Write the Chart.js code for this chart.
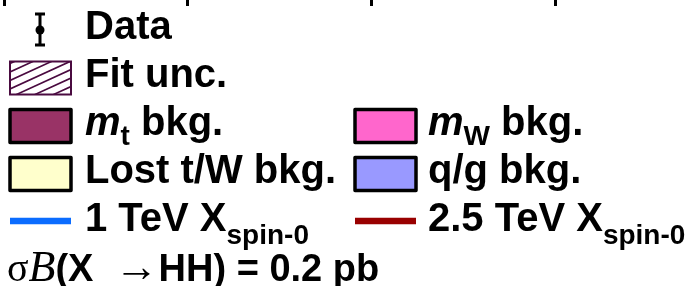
<!DOCTYPE html>
<html>
<head>
<meta charset="utf-8">
<script src="https://cdn.jsdelivr.net/npm/chart.js@4.4.0/dist/chart.umd.min.js"></script>
<style>
  html, body { margin: 0; padding: 0; background: #fff; }
  canvas { display: block; }
</style>
</head>
<body>
<canvas id="chart" width="692" height="286"></canvas>
<script>
// legend entries, ROOT-like markup: #it{} italic, _{} subscript, #ti{} serif italic
const entryLabels = ['Data', 'Fit unc.', '#it{m}_{t} bkg.', '#it{m}_{W} bkg.', 'Lost t/W bkg.', 'q/g bkg.', '1 TeV X_{spin-0}', '2.5 TeV X_{spin-0}'];
const entryKinds = ['errorbar', 'hatch', 'box', 'box', 'box', 'box', 'line', 'line'];
const entryColors = ['#000000', '#4a0b40', '#993366', '#ff66cc', '#ffffcc', '#9999ff', '#0b6cff', '#990000'];
const noteText = '#sigma#ti{B}(X  #rightarrowHH) = 0.2 pb';

// x axis ticks visible along the top edge of the crop
const xTickValues = [1000, 1500, 2000, 2500];
const xRange = [989, 2870];

const SANS = '"Liberation Sans", Arial, sans-serif';
const SERIF = '"Liberation Serif", "DejaVu Serif", serif';

function parseLabel(s) {
  const segs = [];
  let buf = '', i = 0;
  const flush = () => { if (buf) { segs.push({ t: buf, f: 'n' }); buf = ''; } };
  const tags = [['#it{', 'it'], ['#ti{', 'ti'], ['_{', 'sub']];
  while (i < s.length) {
    let hit = false;
    for (const [tag, f] of tags) {
      if (s.startsWith(tag, i)) {
        flush();
        const j = s.indexOf('}', i);
        segs.push({ t: s.slice(i + tag.length, j), f: f });
        i = j + 1;
        hit = true;
        break;
      }
    }
    if (hit) continue;
    if (s.startsWith('#sigma', i)) { flush(); segs.push({ t: '\u03C3', f: 'sym' }); i += 6; }
    else if (s.startsWith('#rightarrow', i)) { flush(); segs.push({ t: '\u2192', f: 'arrow' }); i += 11; }
    else { buf += s[i]; i++; }
  }
  flush();
  return segs;
}

function drawRich(ctx, s, x, y, size, subDy) {
  const fonts = {
    n: 'bold ' + size + 'px ' + SANS,
    it: 'italic bold ' + size + 'px ' + SANS,
    sub: 'bold ' + Math.round(size * 0.7) + 'px ' + SANS,
    sym: Math.round(size * 1.05) + 'px ' + SERIF,
    arrow: Math.round(size * 1.15) + 'px ' + SERIF,
    ti: 'italic ' + Math.round(size * 1.15) + 'px ' + SERIF
  };
  ctx.fillStyle = '#000';
  ctx.textBaseline = 'alphabetic';
  ctx.textAlign = 'left';
  for (const seg of parseLabel(s)) {
    ctx.font = fonts[seg.f];
    const dy = seg.f === 'sub' ? subDy : 0;
    ctx.fillText(seg.t, x, y + dy);
    x += ctx.measureText(seg.t).width;
  }
}

// draws the legend from the datasets
const legendPlugin = {
  id: 'rootLegend',
  afterDraw(chart) {
    const ctx = chart.ctx;
    const slots = [[0, 0], [1, 0], [2, 0], [2, 1], [3, 0], [3, 1], [4, 0], [4, 1]];
    const colBox = [10, 355], colText = [85, 428];
    const boxW = 61, rowTop = 30, rowStep = 48;
    ctx.save();
    chart.data.datasets.forEach((ds, i) => {
      const [row, col] = slots[i];
      const cy = rowTop + row * rowStep;
      const bx = colBox[col];
      const kind = entryKinds[i];
      if (kind === 'errorbar') {
        const mx = bx + 30;
        ctx.strokeStyle = ds.borderColor;
        ctx.lineWidth = 3;
        ctx.beginPath();
        ctx.moveTo(mx, cy - 16); ctx.lineTo(mx, cy + 15);
        ctx.moveTo(mx - 5, cy - 16); ctx.lineTo(mx + 5, cy - 16);
        ctx.moveTo(mx - 5, cy + 15); ctx.lineTo(mx + 5, cy + 15);
        ctx.stroke();
        ctx.fillStyle = ds.borderColor;
        ctx.beginPath();
        ctx.arc(mx, cy, 4.5, 0, Math.PI * 2);
        ctx.fill();
      } else if (kind === 'hatch') {
        const x0 = bx, y0 = cy - 16.5, h = 33;
        ctx.save();
        ctx.beginPath();
        ctx.rect(x0, y0, boxW, h);
        ctx.clip();
        ctx.strokeStyle = ds.borderColor;
        ctx.lineWidth = 1.6;
        ctx.beginPath();
        for (let k = -60; k < 80; k += 8.5) {
          ctx.moveTo(x0, y0 + k + 28);
          ctx.lineTo(x0 + boxW, y0 + k);
        }
        ctx.stroke();
        ctx.restore();
        ctx.strokeStyle = ds.borderColor;
        ctx.lineWidth = 2;
        ctx.strokeRect(x0, y0, boxW, h);
      } else if (kind === 'box') {
        ctx.fillStyle = ds.backgroundColor;
        ctx.strokeStyle = '#000';
        ctx.lineWidth = 3.5;
        ctx.lineJoin = 'round';
        ctx.fillRect(bx, cy - 16.5, boxW, 33);
        ctx.strokeRect(bx, cy - 16.5, boxW, 33);
      } else if (kind === 'line') {
        ctx.strokeStyle = ds.borderColor;
        ctx.lineWidth = 6.5;
        ctx.lineCap = 'butt';
        ctx.beginPath();
        ctx.moveTo(bx, cy - 1); ctx.lineTo(bx + boxW, cy - 1);
        ctx.stroke();
      }
      const subDy = kind === 'line' ? 13 : 10;
      drawRich(ctx, ds.label, colText[col], cy + 8.5, 40, subDy);
    });
    drawRich(ctx, noteText, 7, 281, 38, 10);
    ctx.restore();
  }
};

const datasets = entryLabels.map((label, i) => ({
  type: entryKinds[i] === 'line' ? 'line' : 'bar',
  label: label,
  data: [],
  borderColor: entryKinds[i] === 'box' ? '#000000' : entryColors[i],
  backgroundColor: entryColors[i]
}));

new Chart(document.getElementById('chart'), {
  type: 'line',
  data: { datasets: datasets },
  options: {
    responsive: false,
    animation: false,
    devicePixelRatio: 1,
    layout: { padding: 0 },
    plugins: { legend: { display: false }, tooltip: { enabled: false } },
    scales: {
      x: {
        type: 'linear',
        position: 'top',
        offset: false,
        min: xRange[0],
        max: xRange[1],
        afterBuildTicks: (scale) => { scale.ticks = xTickValues.map(v => ({ value: v })); },
        ticks: { display: false },
        grid: { offset: false, drawOnChartArea: false, drawTicks: true, tickLength: 6, color: '#000', lineWidth: 3 },
        border: { display: false }
      },
      y: { display: false, min: 0, max: 1 }
    }
  },
  plugins: [legendPlugin]
});
</script>
</body>
</html>
